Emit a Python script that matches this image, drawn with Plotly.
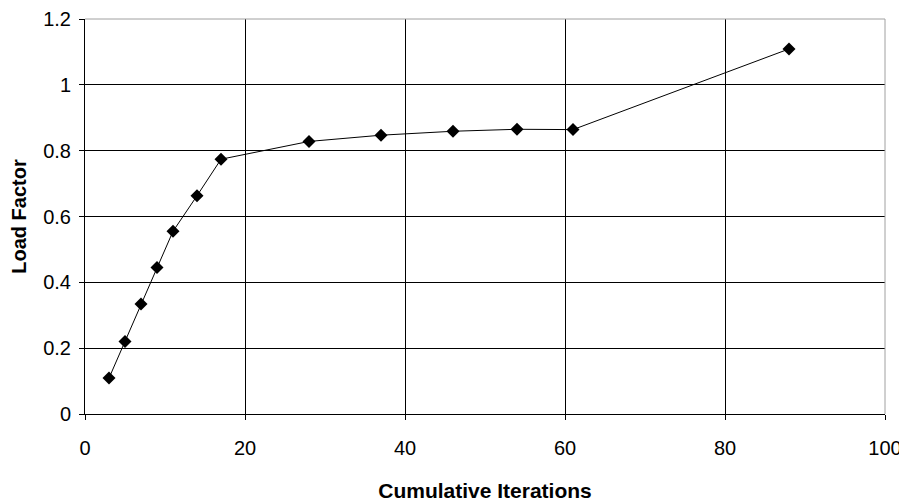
import plotly.graph_objects as go

# cumulative iterations vs load factor
iterations = [3, 5, 7, 9, 11, 14, 17, 28, 37, 46, 54, 61, 88]
load_factor = [0.109, 0.22, 0.334, 0.445, 0.555, 0.663, 0.774, 0.828, 0.847, 0.859, 0.865, 0.864, 1.109]

x_ticks = [0, 20, 40, 60, 80, 100]
y_ticks = [0, 0.2, 0.4, 0.6, 0.8, 1, 1.2]
y_tick_text = ["0", "0.2", "0.4", "0.6", "0.8", "1", "1.2"]

FONT = "Liberation Sans, Arial, sans-serif"

fig = go.Figure()
fig.add_trace(
    go.Scatter(
        x=iterations,
        y=load_factor,
        mode="lines+markers",
        line=dict(color="black", width=1),
        marker=dict(symbol="diamond", size=10, color="black"),
        showlegend=False,
    )
)

# the page body has an 8px margin, so the figure is a bit smaller than the window
fig.update_layout(
    width=899,
    height=494,
    margin=dict(l=77, r=22, t=11, b=88),
    paper_bgcolor="white",
    plot_bgcolor="white",
    font=dict(family=FONT, size=20, color="black"),
)
fig.update_xaxes(
    range=[0, 100],
    tickvals=x_ticks,
    automargin=False,
    showgrid=True,
    gridcolor="black",
    gridwidth=1,
    showline=True,
    linecolor="black",
    linewidth=1,
    ticks="outside",
    ticklen=5,
    tickcolor="black",
    ticklabelstandoff=11,
    zeroline=False,
    title=dict(
        text="<b>Cumulative Iterations</b>",
        font=dict(family=FONT, size=21),
        standoff=25,
    ),
)
fig.update_yaxes(
    range=[0, 1.2],
    tickvals=y_ticks,
    ticktext=y_tick_text,
    automargin=False,
    showgrid=True,
    gridcolor="black",
    gridwidth=1,
    showline=True,
    linecolor="black",
    linewidth=1,
    ticks="outside",
    ticklen=5,
    tickcolor="black",
    ticklabelstandoff=4,
    zeroline=False,
    title=dict(
        text="<b>Load Factor</b>",
        font=dict(family=FONT, size=20),
        standoff=13,
    ),
)
# grey frame on top and right, like the original plot area border
fig.add_shape(type="line", xref="paper", yref="paper", x0=0, x1=1, y0=1, y1=1,
              line=dict(color="#a0a0a0", width=1))
fig.add_shape(type="line", xref="paper", yref="paper", x0=1, x1=1, y0=0, y1=1,
              line=dict(color="#a0a0a0", width=1))

fig.write_html("out.html")
